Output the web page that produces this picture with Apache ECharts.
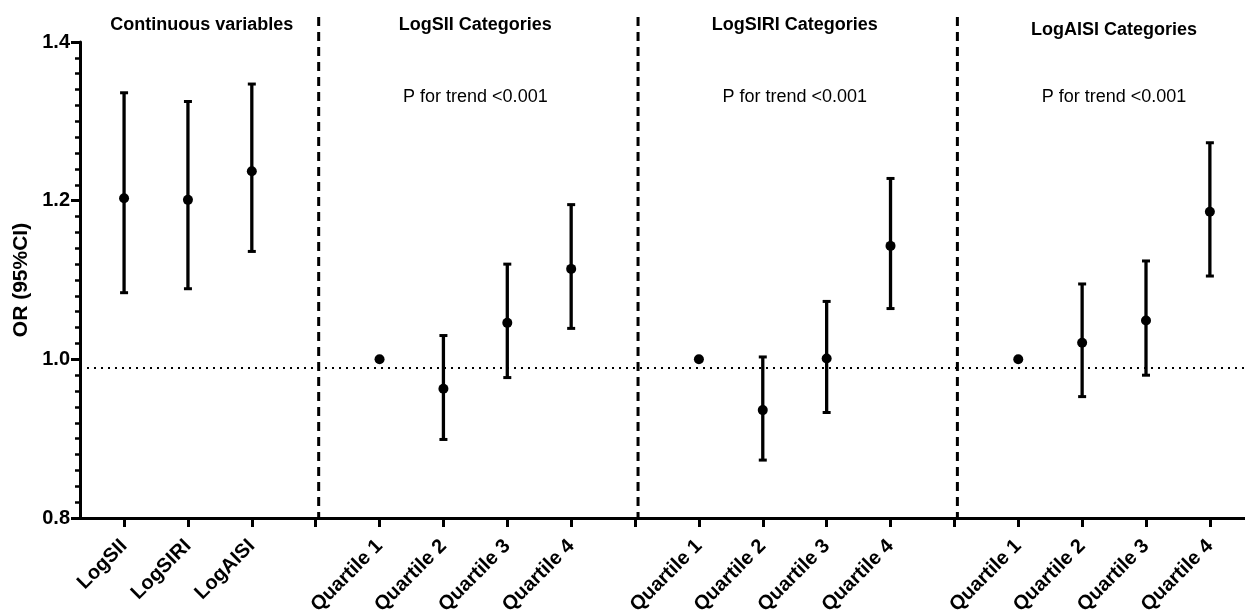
<!DOCTYPE html>
<html><head><meta charset="utf-8">
<script src="https://cdn.jsdelivr.net/npm/echarts@6/dist/echarts.min.js"></script>
<style>html,body{margin:0;padding:0;background:#fff}#c{width:1245px;height:613px}</style>
</head><body><div id="c"></div>
<script>
// ---- data ----
const panelTitles = ["Continuous variables", "LogSII Categories", "LogSIRI Categories", "LogAISI Categories"];
const panelTrend = ["", "P for trend <0.001", "P for trend <0.001", "P for trend <0.001"];
const continuousLabels = ["LogSII", "LogSIRI", "LogAISI"];
const quartileLabels = ["Quartile 1", "Quartile 2", "Quartile 3", "Quartile 4"];

const orContinuous   = [1.203, 1.201, 1.237];
const lowContinuous  = [1.084, 1.089, 1.136];
const highContinuous = [1.336, 1.325, 1.347];

const orSII   = [1.000, 0.963, 1.046, 1.114];
const lowSII  = [null, 0.899, 0.977, 1.039];
const highSII = [null, 1.030, 1.120, 1.195];

const orSIRI   = [1.000, 0.936, 1.001, 1.143];
const lowSIRI  = [null, 0.873, 0.933, 1.064];
const highSIRI = [null, 1.003, 1.073, 1.228];

const orAISI   = [1.000, 1.021, 1.049, 1.186];
const lowAISI  = [null, 0.953, 0.980, 1.105];
const highAISI = [null, 1.095, 1.124, 1.273];

const yTicks = [0.8, 1.0, 1.2, 1.4];
const referenceLine = 0.992;
const yAxisTitle = "OR (95%CI)";

// ---- build slots ----
const panels = [
  { labels: continuousLabels, or: orContinuous, low: lowContinuous, high: highContinuous },
  { labels: quartileLabels, or: orSII, low: lowSII, high: highSII },
  { labels: quartileLabels, or: orSIRI, low: lowSIRI, high: highSIRI },
  { labels: quartileLabels, or: orAISI, low: lowAISI, high: highAISI }
];
const labelBySlot = {};
const itemSlots = [], allSlots = [], separators = [];
const points = [], bars = [];
const panelRanges = [];
let slot = 1;
panels.forEach((p, pi) => {
  const start = slot;
  p.labels.forEach((lab, i) => {
    labelBySlot[slot] = lab;
    itemSlots.push(slot); allSlots.push(slot);
    points.push([slot, p.or[i]]);
    if (p.low[i] != null) bars.push([slot, p.low[i], p.high[i]]);
    slot++;
  });
  if (pi < panels.length - 1) { separators.push(slot); allSlots.push(slot); panelRanges.push([start, slot]); slot++; }
  else panelRanges.push([start, slot]);
});

const FONT = "'Liberation Sans', Arial, Helvetica, sans-serif";
const X_MIN = 0.31, X_MAX = 18.55;

const chart = echarts.init(document.getElementById('c'), null, { renderer: 'canvas' });
chart.setOption({
  animation: false,
  backgroundColor: '#fff',
  grid: { left: 80, right: 0, top: 42, bottom: 95, containLabel: false, outerBoundsMode: 'none' },
  xAxis: {
    type: 'value', min: X_MIN, max: X_MAX,
    axisLine: { onZero: false, lineStyle: { color: '#000', width: 3 } },
    axisTick: { customValues: allSlots, length: 9, lineStyle: { color: '#000', width: 3 } },
    axisLabel: {
      customValues: itemSlots,
      formatter: v => labelBySlot[Math.round(v)] || '',
      rotate: 45, margin: 25,
      color: '#000', fontFamily: FONT, fontWeight: 'bold', fontSize: 20
    },
    splitLine: { show: false }
  },
  yAxis: {
    type: 'value', min: yTicks[0], max: yTicks[yTicks.length - 1], interval: 0.2,
    name: yAxisTitle, nameLocation: 'middle', nameGap: 46,
    nameTextStyle: { color: '#000', fontFamily: FONT, fontWeight: 'bold', fontSize: 21 },
    axisLine: { show: true, onZero: false, lineStyle: { color: '#000', width: 3 } },
    axisTick: { show: true, length: 9, lineStyle: { color: '#000', width: 3 } },
    minorTick: { show: true, splitNumber: 10, length: 5, lineStyle: { color: '#000', width: 2.5 } },
    axisLabel: { formatter: v => v.toFixed(1), margin: 10, color: '#000', fontFamily: FONT, fontWeight: 'bold', fontSize: 20 },
    splitLine: { show: false }
  },
  series: [
    {
      type: 'custom', name: 'separators', silent: true, clip: false,
      data: separators.map(s => [s, yTicks[0]]),
      renderItem: (params, api) => {
        const x = api.value(0);
        const pb = api.coord([x, yTicks[0]]);
        const pt = api.coord([x, yTicks[yTicks.length - 1]]);
        return { type: 'line', shape: { x1: pb[0] + 3, y1: pt[1] - 25, x2: pb[0] + 3, y2: pb[1] },
          style: { stroke: '#000', lineWidth: 3, lineDash: [9, 6] } };
      }
    },
    {
      type: 'custom', name: 'ci', silent: true,
      data: bars,
      encode: { x: 0, y: [1, 2] },
      renderItem: (params, api) => {
        const x = api.value(0);
        const lo = api.coord([x, api.value(1)]);
        const hi = api.coord([x, api.value(2)]);
        const cap = 4;
        return { type: 'group', children: [
          { type: 'line', shape: { x1: lo[0], y1: lo[1], x2: hi[0], y2: hi[1] }, style: { stroke: '#000', lineWidth: 3.3 } },
          { type: 'line', shape: { x1: hi[0] - cap, y1: hi[1], x2: hi[0] + cap, y2: hi[1] }, style: { stroke: '#000', lineWidth: 3 } },
          { type: 'line', shape: { x1: lo[0] - cap, y1: lo[1], x2: lo[0] + cap, y2: lo[1] }, style: { stroke: '#000', lineWidth: 3 } }
        ] };
      }
    },
    {
      type: 'scatter', name: 'OR', data: points, symbol: 'circle', symbolSize: 10,
      itemStyle: { color: '#000', opacity: 1 }, silent: true, z: 5,
      markLine: {
        silent: true, symbol: 'none', label: { show: false },
        lineStyle: { color: '#000', width: 2, type: [2, 5] },
        data: [{ yAxis: referenceLine }]
      }
    }
  ]
});

// headers
const graphics = [];
panelRanges.forEach((r, i) => {
  const lo = i === 0 ? X_MIN : r[0] - 1;
  const cx = chart.convertToPixel({ xAxisIndex: 0 }, (lo + r[1]) / 2);
  graphics.push({ type: 'text', x: cx + (i === 0 ? 4 : 0), y: i === 3 ? 30 : 25,
    style: { text: panelTitles[i], textAlign: 'center', textVerticalAlign: 'middle', fill: '#000', font: "bold 18px " + FONT } });
  if (panelTrend[i]) graphics.push({ type: 'text', x: cx, y: 97,
    style: { text: panelTrend[i], textAlign: 'center', textVerticalAlign: 'middle', fill: '#000', font: "18px " + FONT } });
});
chart.setOption({ graphic: graphics });
</script>
</body></html>
